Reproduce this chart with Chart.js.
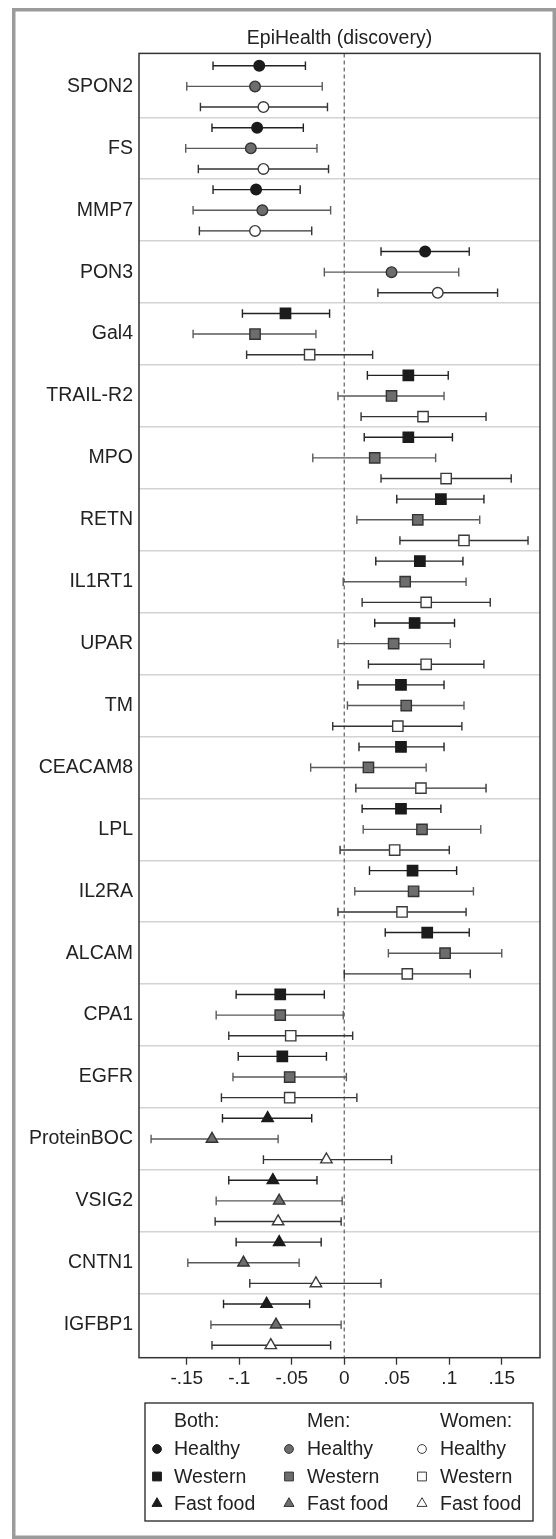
<!DOCTYPE html>
<html>
<head>
<meta charset="utf-8">
<script src="https://cdn.jsdelivr.net/npm/chart.js@4/dist/chart.umd.min.js"></script>
<style>
  html, body { margin: 0; padding: 0; background: #fff; }
  canvas { display: block; }
</style>
</head>
<body>
<canvas id="forest" width="556" height="1539"></canvas>
<script>
// Proteins, top to bottom, and the dietary pattern each one belongs to
// (0 = healthy, 1 = western, 2 = fast food).
const proteins = ["SPON2", "FS", "MMP7", "PON3", "Gal4", "TRAIL-R2", "MPO", "RETN",
  "IL1RT1", "UPAR", "TM", "CEACAM8", "LPL", "IL2RA", "ALCAM", "CPA1", "EGFR",
  "ProteinBOC", "VSIG2", "CNTN1", "IGFBP1"];
const patterns = [0, 0, 0, 0, 1, 1, 1, 1, 1, 1, 1, 1, 1, 1, 1, 1, 1, 2, 2, 2, 2];

// Estimates and 95% CI, both sexes
const bothEst = [-0.081, -0.083, -0.084, 0.077, -0.056, 0.061, 0.061, 0.092, 0.072, 0.067, 0.054,
  0.054, 0.054, 0.065, 0.079, -0.061, -0.059, -0.073, -0.068, -0.062, -0.074];
const bothLo = [-0.125, -0.126, -0.125, 0.035, -0.097, 0.022, 0.019, 0.050, 0.030, 0.029, 0.013,
  0.014, 0.017, 0.024, 0.039, -0.103, -0.101, -0.116, -0.110, -0.103, -0.115];
const bothHi = [-0.037, -0.039, -0.042, 0.119, -0.014, 0.099, 0.103, 0.133, 0.113, 0.105, 0.095,
  0.095, 0.092, 0.107, 0.119, -0.019, -0.017, -0.031, -0.026, -0.022, -0.033];

// Men
const menEst = [-0.085, -0.089, -0.078, 0.045, -0.085, 0.045, 0.029, 0.070, 0.058, 0.047, 0.059,
  0.023, 0.074, 0.066, 0.096, -0.061, -0.052, -0.126, -0.062, -0.096, -0.065];
const menLo = [-0.150, -0.151, -0.144, -0.019, -0.144, -0.006, -0.030, 0.012, -0.001, -0.006, 0.003,
  -0.032, 0.018, 0.010, 0.042, -0.122, -0.106, -0.184, -0.122, -0.149, -0.127];
const menHi = [-0.021, -0.026, -0.013, 0.109, -0.027, 0.095, 0.087, 0.129, 0.116, 0.101, 0.114,
  0.078, 0.130, 0.123, 0.150, -0.001, 0.002, -0.063, -0.002, -0.043, -0.003];

// Women
const womenEst = [-0.077, -0.077, -0.085, 0.089, -0.033, 0.075, 0.097, 0.114, 0.078, 0.078, 0.051,
  0.073, 0.048, 0.055, 0.060, -0.051, -0.052, -0.017, -0.063, -0.027, -0.070];
const womenLo = [-0.137, -0.139, -0.138, 0.032, -0.093, 0.016, 0.035, 0.053, 0.017, 0.023, -0.011,
  0.011, -0.004, -0.006, 0.000, -0.110, -0.117, -0.077, -0.123, -0.090, -0.126];
const womenHi = [-0.016, -0.015, -0.031, 0.146, 0.027, 0.135, 0.159, 0.175, 0.139, 0.133, 0.112,
  0.135, 0.100, 0.116, 0.120, 0.008, 0.012, 0.045, -0.003, 0.035, -0.013];

const xTicks = [-0.15, -0.1, -0.05, 0, 0.05, 0.1, 0.15];
const xTickLabels = ["-.15", "-.1", "-.05", "0", ".05", ".1", ".15"];
const sexNames = ["Both:", "Men:", "Women:"];
const patternNames = ["Healthy", "Western", "Fast food"];

// Look
const FONT = '"Liberation Sans", Arial, sans-serif';
const shapes = ["circle", "rect", "triangle"];
const shapeRadius = [5.3, 7.3, 6.6];
const markerFill = ["#1b1b1b", "#6d6d6d", "#ffffff"];
const markerEdge = ["#1b1b1b", "#333333", "#3a3a3a"];
const ciColour = ["#222222", "#5a5a5a", "#333333"];

const series = [
  { est: bothEst, lo: bothLo, hi: bothHi },
  { est: menEst, lo: menLo, hi: menHi },
  { est: womenEst, lo: womenLo, hi: womenHi },
];

// Three rows per protein, one per sex
const rowOf = (g, s) => g * 3 + s;
const yMin = -0.6;
const yMax = proteins.length * 3 - 1 + 0.6;
const xMin = -0.1955;
const xMax = 0.1864;

const datasets = [];

series.forEach((ser, s) => {
  // point estimates
  datasets.push({
    data: proteins.map((p, g) => ({ x: ser.est[g], y: rowOf(g, s) })),
    pointStyle: patterns.map((k) => shapes[k]),
    pointRadius: patterns.map((k) => shapeRadius[k]),
    pointBackgroundColor: markerFill[s],
    pointBorderColor: markerEdge[s],
    pointBorderWidth: 1.4,
    showLine: false,
    order: 0,
  });

  // CI lines, broken by a null point after each protein; the caps are
  // "line" points turned upright.
  const ci = [];
  proteins.forEach((p, g) => {
    ci.push({ x: ser.lo[g], y: rowOf(g, s) });
    ci.push({ x: ser.hi[g], y: rowOf(g, s) });
    ci.push({ x: ser.hi[g], y: null });
  });
  datasets.push({
    data: ci,
    showLine: true,
    spanGaps: false,
    borderColor: ciColour[s],
    borderWidth: 1.4,
    pointStyle: "line",
    rotation: 90,
    pointRadius: 4.3,
    pointBorderColor: ciColour[s],
    pointBorderWidth: 1.4,
    order: 1,
  });
});

// dashed reference line at zero
datasets.push({
  data: [{ x: 0, y: yMin }, { x: 0, y: yMax }],
  showLine: true,
  borderColor: "#777777",
  borderWidth: 1.4,
  borderDash: [4, 3],
  pointRadius: 0,
  order: 2,
});

const groupEdges = proteins.slice(1).map((p, g) => (g + 1) * 3 - 0.5);

const frames = {
  id: "frames",
  beforeDraw(chart) {
    const ctx = chart.ctx;
    ctx.save();
    ctx.fillStyle = "#ffffff";
    ctx.fillRect(0, 0, chart.width, chart.height);
    ctx.strokeStyle = "#9b9b9b";
    ctx.lineWidth = 3.5;
    ctx.strokeRect(13.75, 9.75, chart.width - 1.75 - 13.75, chart.height - 1.75 - 9.75);
    ctx.restore();
  },
  afterDraw(chart) {
    const ctx = chart.ctx;
    const a = chart.chartArea;
    ctx.save();
    ctx.strokeStyle = "#333333";
    ctx.lineWidth = 1.5;
    ctx.strokeRect(a.left, a.top, a.right - a.left, a.bottom - a.top);

    // legend box
    const box = { left: 145, top: 1403, right: 533, bottom: 1521 };
    ctx.lineWidth = 1.4;
    ctx.strokeStyle = "#333333";
    ctx.strokeRect(box.left, box.top, box.right - box.left, box.bottom - box.top);

    const colMarker = [157, 289, 422];
    const colText = [174, 307, 440];
    const rowY = [1421, 1449, 1476.5, 1503.5];
    ctx.font = "19.5px " + FONT;
    ctx.textBaseline = "middle";
    ctx.textAlign = "left";
    sexNames.forEach((name, s) => {
      ctx.fillStyle = "#222222";
      ctx.fillText(name, colText[s], rowY[0] + 1);
      patternNames.forEach((pn, k) => {
        const y = rowY[k + 1];
        const x = colMarker[s];
        ctx.beginPath();
        if (k === 0) {
          ctx.arc(x, y, 4.4, 0, Math.PI * 2);
        } else if (k === 1) {
          ctx.rect(x - 4.4, y - 4.4, 8.8, 8.8);
        } else {
          const r = 5.8;
          ctx.moveTo(x, y - r);
          ctx.lineTo(x + r * 0.866, y + r / 2);
          ctx.lineTo(x - r * 0.866, y + r / 2);
          ctx.closePath();
        }
        ctx.fillStyle = markerFill[s];
        ctx.fill();
        ctx.lineWidth = 1;
        ctx.strokeStyle = markerEdge[s];
        ctx.stroke();
        ctx.fillStyle = "#222222";
        ctx.fillText(pn, colText[s], y + 1);
      });
    });
    ctx.restore();
  },
};

new Chart(document.getElementById("forest"), {
  type: "scatter",
  data: { datasets: datasets },
  plugins: [frames],
  options: {
    responsive: false,
    animation: false,
    devicePixelRatio: 1,
    layout: { padding: { top: 0, left: 0, right: 16, bottom: 141.3 } },
    plugins: {
      legend: { display: false },
      tooltip: { enabled: false },
      title: {
        display: true,
        text: "EpiHealth (discovery)",
        fullSize: false,
        color: "#222222",
        font: { family: FONT, size: 19.5, weight: "normal", lineHeight: 1.2 },
        padding: { top: 27, bottom: 3 },
      },
    },
    scales: {
      x: {
        type: "linear",
        min: xMin,
        max: xMax,
        afterBuildTicks: (scale) => {
          scale.ticks = xTicks.map((v) => ({ value: v }));
        },
        afterFit: (scale) => {
          scale.height = 40;
        },
        ticks: {
          autoSkip: false,
          maxRotation: 0,
          padding: 3,
          color: "#222222",
          font: { family: FONT, size: 19 },
          callback: (v, i) => xTickLabels[i],
        },
        grid: {
          drawOnChartArea: false,
          tickLength: 7,
          tickColor: "#333333",
          tickWidth: 1.3,
        },
        border: { display: false },
      },
      y: {
        type: "linear",
        position: "left",
        min: yMin,
        max: yMax,
        reverse: true,
        afterBuildTicks: (scale) => {
          scale.ticks = proteins.map((p, g) => ({ value: rowOf(g, 1) }));
        },
        afterFit: (scale) => {
          scale.width = 139;
        },
        ticks: {
          autoSkip: false,
          padding: 6,
          color: "#222222",
          font: { family: FONT, size: 19.5 },
          callback: (v, i) => proteins[i],
        },
        grid: { display: false, drawTicks: false },
        border: { display: false },
      },
      ySep: {
        type: "linear",
        position: "left",
        min: yMin,
        max: yMax,
        reverse: true,
        afterBuildTicks: (scale) => {
          scale.ticks = groupEdges.map((v) => ({ value: v }));
        },
        afterFit: (scale) => {
          scale.width = 0;
        },
        ticks: { display: false },
        grid: { color: "#d3d3d3", lineWidth: 1.6, drawTicks: false },
        border: { display: false },
      },
    },
  },
});
</script>
</body>
</html>
